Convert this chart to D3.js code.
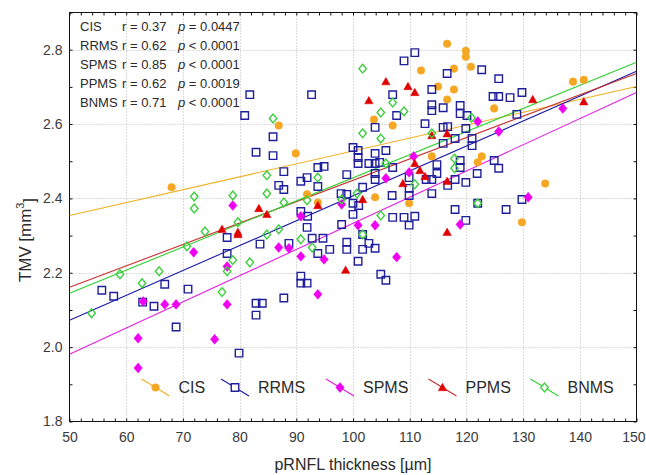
<!DOCTYPE html>
<html>
<head>
<meta charset="utf-8">
<script src="https://cdn.jsdelivr.net/npm/d3@7"></script>
<style>
  html, body { margin: 0; padding: 0; background: #fff; }
  svg { display: block; font-family: "Liberation Sans", Arial, sans-serif; }
</style>
</head>
<body>
<svg id="chart" width="646" height="475"></svg>
<script>
// ---------------- data ----------------
const xTicks = [50, 60, 70, 80, 90, 100, 110, 120, 130, 140, 150];
const yTicks = [1.8, 2.0, 2.2, 2.4, 2.6, 2.8];
const xLabel = "pRNFL thickness [µm]";
const yLabel = "TMV [mm";
const seriesNames = ["CIS", "RRMS", "SPMS", "PPMS", "BNMS"];
const statR = ["0.37", "0.62", "0.85", "0.62", "0.71"];
const statOp = ["=", "<", "<", "=", "<"];
const statP = ["0.0447", "0.0001", "0.0001", "0.0019", "0.0001"];

const cisPoints = [
  [68.0, 2.430], [86.9, 2.596], [89.9, 2.521], [91.9, 2.411], [93.8, 2.389],
  [103.7, 2.612], [107.0, 2.596], [112.0, 2.744], [116.6, 2.816], [115.0, 2.701],
  [116.6, 2.666], [113.9, 2.513], [103.9, 2.403], [109.9, 2.387], [119.9, 2.797],
  [119.9, 2.781], [117.8, 2.749], [120.8, 2.754], [117.8, 2.693], [124.9, 2.642],
  [138.8, 2.714], [140.7, 2.719], [122.7, 2.513], [122.0, 2.497], [133.9, 2.440],
  [129.8, 2.336]
];

const rrmsPoints = [
  [81.8, 2.679], [80.9, 2.623], [82.9, 2.524], [55.7, 2.153], [57.8, 2.137],
  [62.9, 2.121], [64.9, 2.110], [66.8, 2.169], [70.9, 2.156], [68.8, 2.054],
  [77.8, 2.295], [77.8, 2.252], [79.9, 1.984], [83.6, 2.277], [82.9, 2.118],
  [82.9, 2.086], [85.9, 2.566], [85.9, 2.515], [87.8, 2.472], [86.9, 2.435],
  [87.8, 2.424], [92.7, 2.679], [93.8, 2.483], [94.9, 2.486], [91.9, 2.456],
  [90.8, 2.446], [93.8, 2.432], [98.9, 2.464], [97.9, 2.413], [98.9, 2.411],
  [100.0, 2.387], [101.0, 2.381], [100.0, 2.357], [92.0, 2.352], [100.0, 2.537],
  [100.9, 2.529], [100.9, 2.510], [100.9, 2.494], [101.7, 2.430], [102.8, 2.494],
  [103.9, 2.521], [103.9, 2.494], [103.9, 2.467], [103.9, 2.451], [104.7, 2.497],
  [105.8, 2.529], [107.0, 2.483], [106.9, 2.408], [103.9, 2.591], [107.0, 2.679],
  [107.7, 2.623], [109.0, 2.770], [110.9, 2.792], [109.9, 2.456], [109.9, 2.427],
  [109.9, 2.408], [110.9, 2.352], [107.0, 2.349], [109.0, 2.349], [112.7, 2.601],
  [113.9, 2.693], [113.9, 2.652], [113.9, 2.636], [115.9, 2.644], [115.9, 2.591],
  [116.6, 2.736], [115.9, 2.548], [112.9, 2.451], [113.9, 2.451], [114.8, 2.491],
  [114.8, 2.467], [113.9, 2.413], [90.8, 2.365], [91.9, 2.322], [88.7, 2.279],
  [92.8, 2.293], [94.7, 2.293], [93.8, 2.252], [95.9, 2.263], [98.0, 2.330],
  [98.9, 2.282], [98.9, 2.263], [101.7, 2.303], [102.8, 2.279], [101.7, 2.263],
  [103.9, 2.266], [100.9, 2.231], [109.9, 2.328], [104.9, 2.196], [105.8, 2.180],
  [90.8, 2.191], [90.8, 2.172], [91.9, 2.172], [87.8, 2.132], [84.0, 2.118],
  [122.7, 2.746], [125.7, 2.722], [124.7, 2.674], [125.7, 2.674], [127.7, 2.671],
  [129.8, 2.685], [118.9, 2.650], [118.9, 2.628], [120.1, 2.623], [119.9, 2.588],
  [116.7, 2.593], [118.0, 2.561], [121.0, 2.561], [121.0, 2.542], [128.9, 2.626],
  [118.9, 2.502], [118.9, 2.483], [124.9, 2.502], [125.7, 2.481], [121.9, 2.467],
  [119.9, 2.443], [118.0, 2.451], [116.7, 2.435], [129.8, 2.397], [127.0, 2.370],
  [118.0, 2.370], [119.9, 2.341], [122.0, 2.387]
];

const spmsPoints = [
  [62.1, 2.024], [62.1, 1.944], [63.0, 2.123], [66.8, 2.115], [68.8, 2.115],
  [71.9, 2.255], [75.6, 2.021], [77.8, 2.217], [77.8, 2.115], [78.8, 2.381],
  [110.7, 2.513], [109.9, 2.470], [105.8, 2.454], [98.0, 2.384], [90.8, 2.352],
  [86.9, 2.268], [88.7, 2.266], [90.8, 2.244], [94.9, 2.236], [100.9, 2.328],
  [103.9, 2.328], [107.7, 2.242], [93.8, 2.142], [122.0, 2.607], [125.7, 2.580],
  [137.0, 2.642], [130.9, 2.403], [118.9, 2.330]
];

const ppmsPoints = [
  [76.9, 2.317], [79.7, 2.309], [79.7, 2.303], [83.4, 2.373], [84.8, 2.357],
  [93.8, 2.381], [101.7, 2.397], [102.8, 2.663], [105.8, 2.714], [109.7, 2.701],
  [110.9, 2.685], [113.9, 2.569], [116.6, 2.574], [110.9, 2.494], [111.8, 2.475],
  [112.7, 2.459], [108.8, 2.440], [116.6, 2.446], [98.7, 2.207], [116.6, 2.309],
  [131.7, 2.666], [140.7, 2.660]
];

const bnmsPoints = [
  [53.9, 2.091], [58.9, 2.196], [62.8, 2.172], [65.8, 2.204], [70.7, 2.271],
  [72.0, 2.405], [72.0, 2.373], [73.9, 2.311], [78.8, 2.408], [79.7, 2.336],
  [78.8, 2.234], [77.8, 2.204], [76.9, 2.148], [81.8, 2.228], [101.7, 2.749],
  [85.9, 2.615], [104.9, 2.631], [107.0, 2.658], [109.0, 2.634], [101.7, 2.575],
  [104.9, 2.561], [105.8, 2.494], [113.9, 2.575], [84.8, 2.462], [84.8, 2.413],
  [87.8, 2.389], [91.9, 2.395], [93.8, 2.456], [100.7, 2.413], [98.0, 2.397],
  [104.9, 2.354], [110.9, 2.438], [84.8, 2.303], [86.9, 2.317], [90.8, 2.290],
  [92.8, 2.268], [101.7, 2.303], [120.9, 2.617], [117.9, 2.507], [117.9, 2.481],
  [122.0, 2.387]
];

// regression lines (value at x = 50 and x = 150)
const cisFit  = [[50, 2.354], [150, 2.701]];
const rrmsFit = [[50, 2.072], [150, 2.742]];
const spmsFit = [[50, 1.981], [150, 2.685]];
const ppmsFit = [[50, 2.161], [150, 2.736]];
const bnmsFit = [[50, 2.145], [150, 2.766]];

// ---------------- styles ----------------
const pointSets = [cisPoints, rrmsPoints, spmsPoints, ppmsPoints, bnmsPoints];
const fitSets = [cisFit, rrmsFit, spmsFit, ppmsFit, bnmsFit];
const markerColor = ["#f5a623", "#1f1f9c", "#f000f0", "#e00000", "#3ccf3c"];
const lineColor = ["#f0b020", "#1a1aa8", "#e020e0", "#c83030", "#30d030"];
const filled = [true, false, true, true, false];

const diamond = {
  draw(ctx, size) {
    const h = Math.sqrt(size) * 0.62, w = h * 0.85;
    ctx.moveTo(0, -h); ctx.lineTo(w, 0); ctx.lineTo(0, h); ctx.lineTo(-w, 0); ctx.closePath();
  }
};
const triangle = {
  draw(ctx, size) {
    const s = Math.sqrt(size) * 0.5;
    ctx.moveTo(0, -s * 1.05); ctx.lineTo(s * 1.05, s * 0.8); ctx.lineTo(-s * 1.05, s * 0.8); ctx.closePath();
  }
};
const square = {
  draw(ctx, size) {
    const s = Math.sqrt(size) / 2;
    ctx.rect(-s, -s, 2 * s, 2 * s);
  }
};
const symbolTypes = [d3.symbolCircle, square, diamond, triangle, diamond];
const symbolSizes = [46, 56, 64, 64, 50];

// ---------------- layout ----------------
const svg = d3.select("#chart");
const L = 69.5, R = 636.5, T = 12.5, B = 421.5;
const x = d3.scaleLinear().domain([50, 150]).range([L, R]);
const y = d3.scaleLinear().domain([1.8, 2.9]).range([B, T]);

svg.append("rect").attr("width", 646).attr("height", 475).attr("fill", "#fff");

// grid
const grid = svg.append("g").attr("stroke", "#b8b8b8").attr("stroke-width", 1)
  .attr("stroke-dasharray", "1,2");
grid.selectAll("line.vx").data(xTicks.slice(1, -1)).join("line")
  .attr("x1", d => Math.round(x(d)) + 0.5).attr("x2", d => Math.round(x(d)) + 0.5)
  .attr("y1", T).attr("y2", B);
grid.selectAll("line.hy").data(yTicks.slice(1)).join("line")
  .attr("y1", d => Math.round(y(d)) + 0.5).attr("y2", d => Math.round(y(d)) + 0.5)
  .attr("x1", L).attr("x2", R);

// axes
const minorX = d3.range(50, 151, 2);
const minorY = d3.range(18, 30, 1).map(v => v / 10);
function styleAxis(g) {
  g.select(".domain").remove();
  g.selectAll(".tick line").attr("stroke", "#111");
}
svg.append("g").attr("transform", `translate(0,${B})`)
  .call(d3.axisBottom(x).tickValues(minorX).tickSize(-3).tickFormat(""))
  .call(styleAxis);
svg.append("g").attr("transform", `translate(0,${T})`)
  .call(d3.axisTop(x).tickValues(minorX).tickSize(-3).tickFormat(""))
  .call(styleAxis);
svg.append("g").attr("transform", `translate(${L},0)`)
  .call(d3.axisLeft(y).tickValues(minorY).tickSize(-3).tickFormat(""))
  .call(styleAxis);
svg.append("g").attr("transform", `translate(${R},0)`)
  .call(d3.axisRight(y).tickValues(minorY).tickSize(-3).tickFormat(""))
  .call(styleAxis);

// tick labels
const xl = svg.append("g").attr("transform", `translate(0,${B})`)
  .call(d3.axisBottom(x).tickValues(xTicks).tickSize(0).tickPadding(11).tickFormat(d3.format("d")));
xl.select(".domain").remove();
xl.selectAll("text").attr("font-size", 14).attr("fill", "#3a3a3a")
  .attr("font-family", '"Liberation Sans", Arial, sans-serif');
xl.selectAll(".tick").filter(d => d === 150).select("text")
  .attr("text-anchor", "end").attr("x", 645 - R);
const yl = svg.append("g").attr("transform", `translate(${L},0)`)
  .call(d3.axisLeft(y).tickValues(yTicks).tickSize(0).tickPadding(7).tickFormat(d3.format(".1f")));
yl.select(".domain").remove();
yl.selectAll("text").attr("font-size", 14).attr("fill", "#3a3a3a")
  .attr("font-family", '"Liberation Sans", Arial, sans-serif');

// frame
svg.append("rect").attr("x", L).attr("y", T).attr("width", R - L).attr("height", B - T)
  .attr("fill", "none").attr("stroke", "#111").attr("stroke-width", 1);

// clip for plot contents
svg.append("clipPath").attr("id", "clip").append("rect")
  .attr("x", L).attr("y", T).attr("width", R - L).attr("height", B - T);
const plot = svg.append("g").attr("clip-path", "url(#clip)");

// regression lines
const lineGen = d3.line().x(d => x(d[0])).y(d => y(d[1]));
fitSets.forEach((f, i) => {
  plot.append("path").attr("d", lineGen(f)).attr("fill", "none")
    .attr("stroke", lineColor[i]).attr("stroke-width", 1.1);
});

// points
pointSets.forEach((pts, i) => {
  const sym = d3.symbol().type(symbolTypes[i]).size(symbolSizes[i]);
  plot.append("g").selectAll("path").data(pts).join("path")
    .attr("transform", d => `translate(${x(d[0])},${y(d[1])})`)
    .attr("d", sym)
    .attr("fill", filled[i] ? markerColor[i] : "none")
    .attr("stroke", markerColor[i])
    .attr("stroke-width", filled[i] ? 0.5 : 1.4);
});

// stats text (top-left)
const stats = svg.append("g").attr("font-size", 13).attr("fill", "#2a2a2a");
seriesNames.forEach((n, i) => {
  const ty = 26 + i * 19;
  stats.append("text").attr("x", 80).attr("y", ty).attr("dy", "0.35em").text(n);
  stats.append("text").attr("x", 122).attr("y", ty).attr("dy", "0.35em").text("r = " + statR[i]);
  const t = stats.append("text").attr("x", 178).attr("y", ty).attr("dy", "0.35em");
  t.append("tspan").attr("font-style", "italic").text("p");
  t.append("tspan").text(" " + statOp[i] + " " + statP[i]);
});

// bottom legend inside plot
const legX = [155.5, 235, 340, 442.5, 544.5];
const legY = 387.5;
const leg = svg.append("g");
seriesNames.forEach((n, i) => {
  const g = leg.append("g").attr("transform", `translate(${legX[i]},${legY})`);
  g.append("line").attr("x1", -14).attr("y1", -8.5).attr("x2", 14).attr("y2", 8.5)
    .attr("stroke", lineColor[i]).attr("stroke-width", 1.1);
  g.append("path").attr("d", d3.symbol().type(symbolTypes[i]).size(symbolSizes[i])())
    .attr("fill", filled[i] ? markerColor[i] : "#fff")
    .attr("stroke", markerColor[i]).attr("stroke-width", filled[i] ? 0.5 : 1.4);
  g.append("text").attr("x", 23).attr("y", 0).attr("dy", "0.36em")
    .attr("font-size", 16).attr("fill", "#2a2a2a").text(n);
});

// axis titles
svg.append("text").attr("x", (L + R) / 2).attr("y", 464).attr("dy", "0.35em")
  .attr("text-anchor", "middle").attr("font-size", 16).attr("fill", "#2a2a2a")
  .text(xLabel);
const yt = svg.append("text")
  .attr("transform", `translate(25,240) rotate(-90)`)
  .attr("text-anchor", "middle").attr("dy", "0.35em")
  .attr("font-size", 17).attr("fill", "#2a2a2a")
  .attr("textLength", 84).attr("lengthAdjust", "spacingAndGlyphs");
yt.append("tspan").text(yLabel);
yt.append("tspan").attr("font-size", 11).attr("dy", "-0.6em").text("3");
yt.append("tspan").attr("dy", "0.6em").text("]");
</script>
</body>
</html>
